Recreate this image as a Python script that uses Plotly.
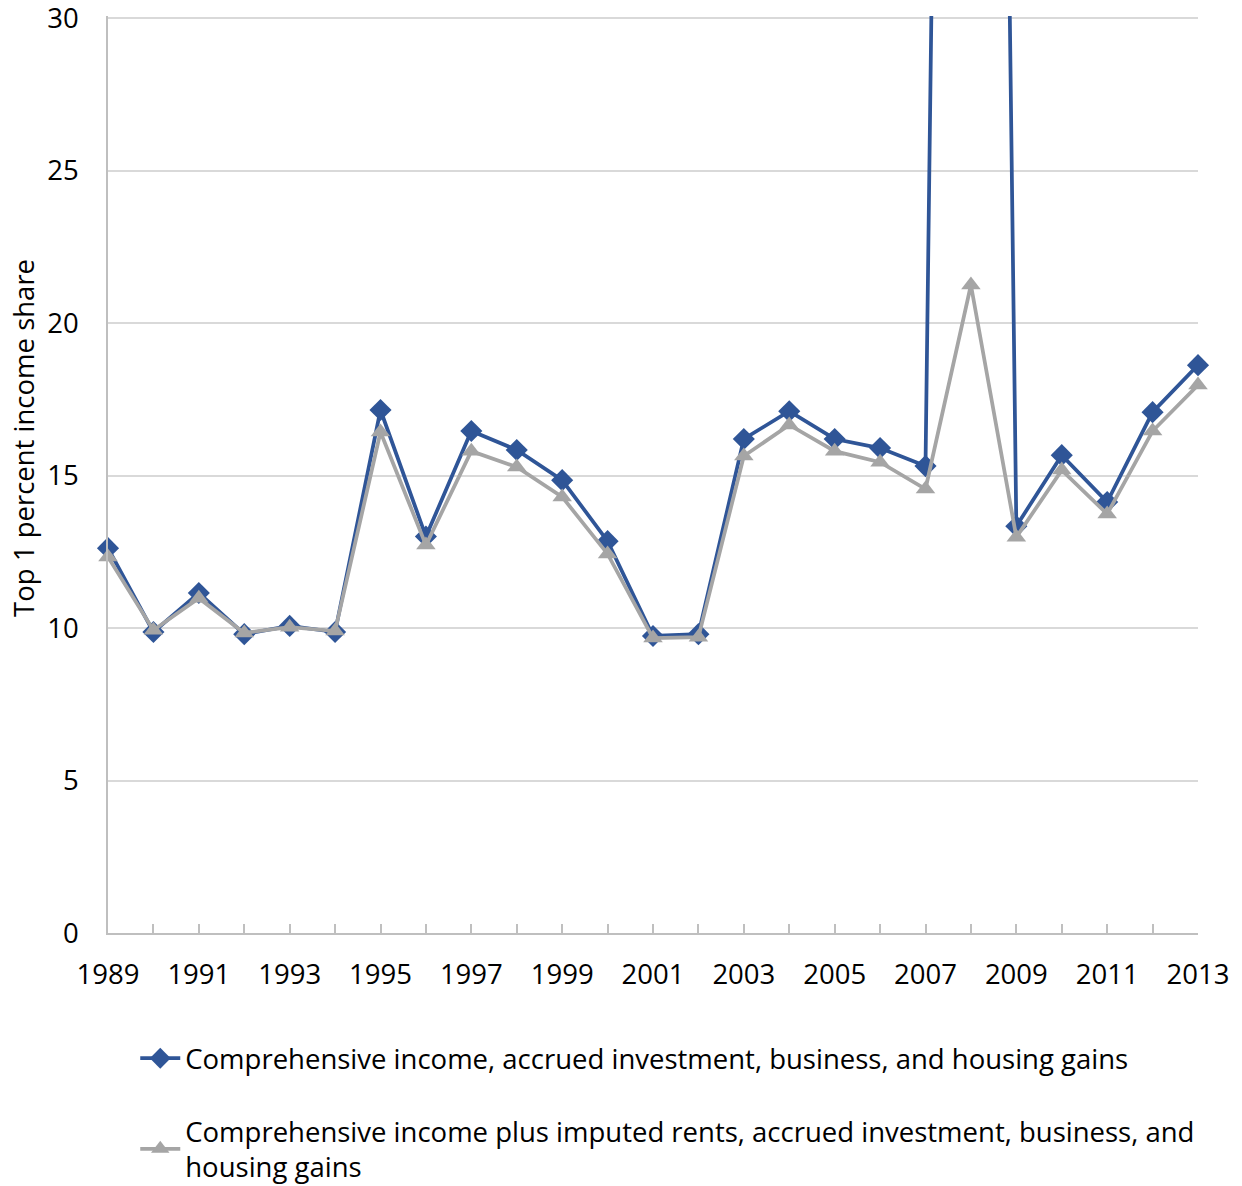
import plotly.graph_objects as go

years = list(range(1989, 2014))

# Top 1 percent income share, comprehensive income with accrued gains
accrued_gains = [12.62, 9.87, 11.15, 9.80, 10.07, 9.87, 17.15, 13.00, 16.46, 15.84,
                 14.85, 12.85, 9.74, 9.80, 16.20, 17.11, 16.20, 15.90, 15.31, 130.0,
                 13.34, 15.67, 14.13, 17.08, 18.62]

# Same measure plus imputed rents
imputed_rents = [12.33, 9.93, 10.98, 9.84, 10.03, 9.90, 16.43, 12.72, 15.80, 15.28,
                 14.30, 12.43, 9.67, 9.70, 15.64, 16.66, 15.80, 15.44, 14.56, 21.25,
                 12.98, 15.18, 13.74, 16.46, 17.97]

series_names = [
    "Comprehensive income, accrued investment, business, and housing gains",
    "Comprehensive income plus imputed rents, accrued investment, business, and<br>housing gains",
]

y_ticks = [0, 5, 10, 15, 20, 25, 30]
x_ticks = list(range(1989, 2014, 2))

FONT = "Open Sans"
FS = 27.5
BLUE = "#2F5597"
GRAY = "#A5A5A5"

fig = go.Figure()
fig.add_trace(go.Scatter(
    x=years, y=accrued_gains, name=series_names[0], mode="lines+markers",
    line=dict(color=BLUE, width=3.75),
    marker=dict(symbol="diamond", size=17, color=BLUE),
    legendgroup="a", cliponaxis=False,
))
fig.add_trace(go.Scatter(
    x=years, y=imputed_rents, name=series_names[1], mode="lines+markers",
    line=dict(color=GRAY, width=3.75),
    marker=dict(symbol="triangle-up", size=17, color=GRAY),
    legendgroup="b", cliponaxis=False,
))

fig.update_layout(
    width=1242, height=1186,
    margin=dict(l=108, r=44, t=16, b=253, autoexpand=False),
    paper_bgcolor="white", plot_bgcolor="white",
    font=dict(family=FONT, size=FS, color="#000000"),
    showlegend=True,
    legend=dict(
        x=0.025, xanchor="left", y=-0.110, yanchor="top",
        traceorder="grouped", tracegroupgap=34,
        font=dict(family=FONT, size=FS, color="#000000"),
        itemwidth=40,
    ),
)

fig.update_xaxes(
    range=[1989, 2013], tickmode="array", tickvals=x_ticks,
    ticktext=[str(t) for t in x_ticks],
    showgrid=False, zeroline=False,
    showline=True, linecolor="#BFBFBF", linewidth=1.5,
    ticks="inside", ticklen=9, tickcolor="#BFBFBF", tickwidth=1.5,
    minor=dict(dtick=1, tick0=1989, ticks="inside", ticklen=9,
               tickcolor="#BFBFBF", tickwidth=1.5, showgrid=False),
    ticklabelstandoff=16, ticklabeloverflow="allow",
    tickfont=dict(family=FONT, size=FS),
)
fig.update_yaxes(
    range=[0, 30.07], tickmode="array", tickvals=y_ticks,
    showgrid=True, gridcolor="#D9D9D9", gridwidth=1.5,
    zeroline=False, showline=True, linecolor="#BFBFBF", linewidth=1.5,
    ticks="", ticklabelstandoff=22, ticklabeloverflow="allow",
    tickfont=dict(family=FONT, size=FS),
)

fig.add_annotation(
    text="Top 1 percent income share", textangle=-90,
    xref="paper", yref="paper", x=-0.077, y=0.54,
    xanchor="center", yanchor="middle", showarrow=False,
    font=dict(family=FONT, size=FS, color="#000000"),
)

fig.write_html("out.html")
